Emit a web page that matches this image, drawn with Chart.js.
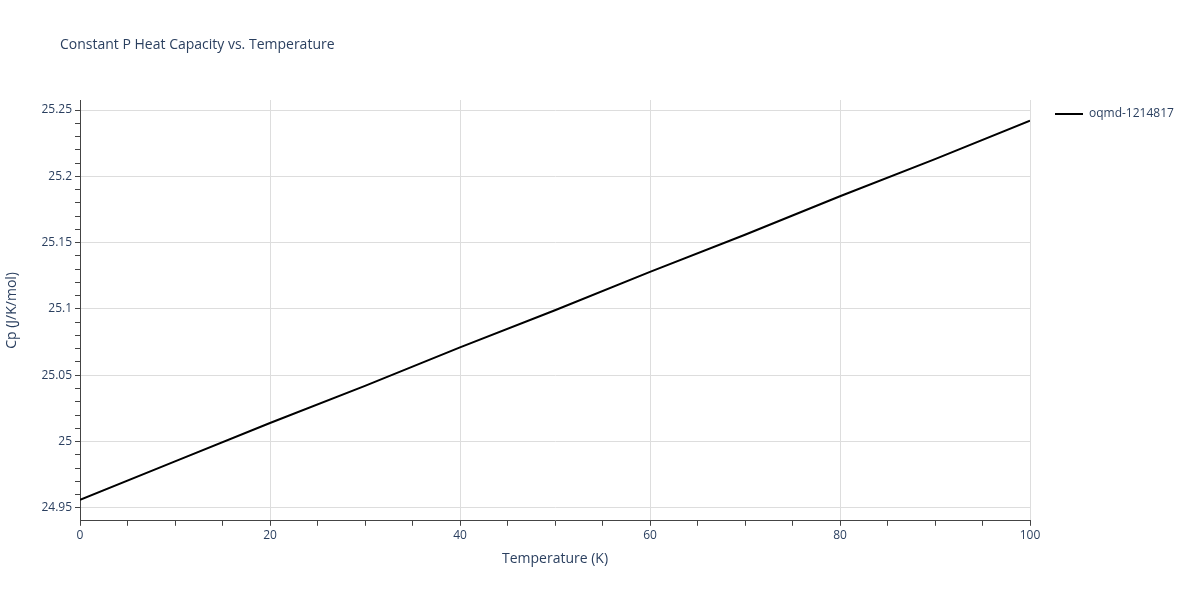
<!DOCTYPE html>
<html><head><meta charset="utf-8">
<script src="https://cdn.jsdelivr.net/npm/chart.js@4/dist/chart.umd.min.js"></script>
<style>body{margin:0;background:#fff}#w{width:1200px;height:600px}</style>
</head><body><div id="w"><canvas id="c"></canvas></div>
<script>
const temps=[0,10,20,30,40,50,60,70,80,90,100];
const cp=[24.956,24.985,25.014,25.042,25.071,25.099,25.128,25.156,25.185,25.213,25.242];
const seriesName='oqmd-1214817';
const chartTitle='Constant P Heat Capacity vs. Temperature';
const font='"Open Sans", sans-serif';
const grey='#2a3f5f';
const overlay={id:'overlay',afterDraw(ch){
 const c=ch.ctx;c.save();c.fillStyle=grey;c.textBaseline='middle';
 c.font='14px '+font;c.fillText(chartTitle,60,45);
 c.strokeStyle='#000';c.lineWidth=2;c.beginPath();c.moveTo(1055,114);c.lineTo(1083,114);c.stroke();
 c.font='12px '+font;c.fillText(seriesName,1089,114);
 c.restore();}};
new Chart(document.getElementById('c'),{
type:'line',
data:{datasets:[{label:seriesName,data:temps.map((t,i)=>({x:t,y:cp[i]})),borderColor:'#000',backgroundColor:'#000',borderWidth:2,pointRadius:0,tension:0}]},
plugins:[overlay],
options:{responsive:true,maintainAspectRatio:false,animation:false,
layout:{padding:{left:0,right:170,top:100,bottom:29}},
plugins:{title:{display:false},legend:{display:false},tooltip:{enabled:false}},
scales:{
x:{type:'linear',min:0,max:100,
 ticks:{stepSize:5,autoSkip:false,color:grey,font:{family:font,size:12},maxRotation:0,callback:v=>v%20===0?v:''},
 grid:{color:c=>c.tick&&c.tick.value%20===0&&c.tick.value!==0?'#ddd':'rgba(0,0,0,0)',tickColor:'#444',tickLength:5,drawTicks:true},
 border:{color:'#444'},
 title:{display:true,text:'Temperature (K)',color:grey,font:{family:font,size:14}}},
y:{type:'linear',min:24.9402,max:25.2576,
 afterBuildTicks:s=>{const t=[];for(let v=24.95;v<=25.2501;v+=0.01)t.push({value:Math.round(v*100)/100});s.ticks=t;},
 ticks:{autoSkip:false,color:grey,font:{family:font,size:12},callback:v=>{const r=Math.round(v*100);return r%5===0?String(+v.toFixed(2)):''}},
 grid:{color:c=>c.tick&&Math.round(c.tick.value*100)%5===0?'#ddd':'rgba(0,0,0,0)',tickColor:'#444',tickLength:5},
 border:{color:'#444'},
 afterFit:s=>{s.width=80},
 title:{display:true,text:'Cp (J/K/mol)',color:grey,font:{family:font,size:14}}}
}}
});
</script></body></html>
